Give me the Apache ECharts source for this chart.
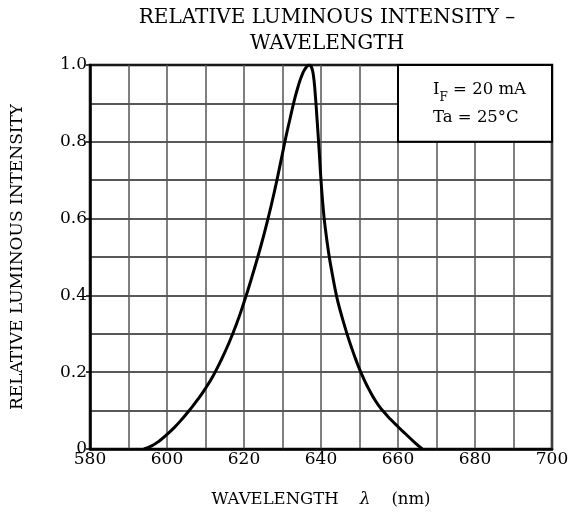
<!DOCTYPE html>
<html>
<head>
<meta charset="utf-8">
<script src="https://cdn.jsdelivr.net/npm/echarts@6/dist/echarts.min.js"></script>
<style>html,body{margin:0;padding:0;background:#fff}#c{width:577px;height:515px}</style>
</head>
<body>
<div id="c"></div>
<script>
const wavelength = [594, 596, 598, 600, 602, 604, 606, 608, 610, 612, 614, 616, 618, 620, 622, 624, 626, 628, 630, 631, 632, 633, 634, 635, 636, 637, 637.5, 638, 638.5, 639, 639.5, 640, 640.5, 641, 642, 643, 644, 645, 646, 647, 648, 649, 650, 651, 652, 653, 654, 655, 656, 658, 660, 662, 664, 666.3];
const intensity  = [0, 0.008, 0.021, 0.038, 0.057, 0.079, 0.103, 0.129, 0.158, 0.191, 0.23, 0.274, 0.324, 0.382, 0.446, 0.515, 0.59, 0.675, 0.77, 0.818, 0.862, 0.905, 0.942, 0.972, 0.992, 1.0, 0.995, 0.975, 0.925, 0.855, 0.78, 0.7, 0.635, 0.585, 0.51, 0.452, 0.4, 0.36, 0.325, 0.292, 0.262, 0.234, 0.208, 0.185, 0.164, 0.145, 0.128, 0.113, 0.1, 0.078, 0.058, 0.039, 0.02, 0];
const xTicks = [580, 600, 620, 640, 660, 680, 700];
const yTicks = [0, 0.2, 0.4, 0.6, 0.8, 1.0];
const conditionBox = [[660, 0.8], [700, 1.0]];
const titleText = 'RELATIVE LUMINOUS INTENSITY –\nWAVELENGTH';
const xName = 'WAVELENGTH    {l|λ}    (nm)';
const yName = 'RELATIVE LUMINOUS INTENSITY';

const FONT = 'DejaVu Serif';
const chart = echarts.init(document.getElementById('c'));
chart.setOption({
  backgroundColor: '#fff',
  animation: false,
  title: {
    text: titleText,
    left: 322, top: 0, textAlign: 'center',
    textStyle: { fontFamily: FONT, fontSize: 20, fontWeight: 'normal', color: '#000', lineHeight: 26 }
  },
  grid: { left: 90, right: 25, top: 65, bottom: 66, show: true, borderColor: '#000', borderWidth: 2.5 },
  xAxis: {
    type: 'value', min: xTicks[0], max: xTicks[xTicks.length - 1], interval: 20,
    name: xName, nameLocation: 'middle', nameGap: 42,
    nameTextStyle: { fontFamily: FONT, fontSize: 16.5, color: '#000', rich: { l: { fontFamily: FONT, fontStyle: 'italic', fontSize: 17, color: '#000' } } },
    axisLine: { lineStyle: { color: '#000', width: 2.5 } },
    axisTick: { show: false },
    axisLabel: { fontFamily: FONT, fontSize: 17, color: '#000', margin: 2 },
    splitLine: { lineStyle: { color: '#555', width: 1.5 } },
    minorTick: { show: false, splitNumber: 2 },
    minorSplitLine: { show: true, lineStyle: { color: '#555', width: 1.5 } }
  },
  yAxis: {
    type: 'value', min: yTicks[0], max: yTicks[yTicks.length - 1], interval: 0.2,
    name: yName, nameLocation: 'middle', nameGap: 64, nameRotate: 90,
    nameTextStyle: { fontFamily: FONT, fontSize: 17, color: '#000' },
    axisLine: { lineStyle: { color: '#000', width: 2.5 } },
    axisTick: { show: true, length: 4, lineStyle: { color: '#000', width: 1.5 } },
    axisLabel: { fontFamily: FONT, fontSize: 17, color: '#000', margin: 3,
      formatter: v => v === 0 ? '0' : v.toFixed(1) },
    splitLine: { lineStyle: { color: '#222', width: 1.5 } },
    minorTick: { show: false, splitNumber: 2 },
    minorSplitLine: { show: true, lineStyle: { color: '#222', width: 1.5 } }
  },
  series: [{
    type: 'line',
    data: wavelength.map((w, i) => [w, intensity[i]]),
    showSymbol: false,
    smooth: 0.5,
    smoothConstraint: false,
    lineStyle: { color: '#000', width: 3 },
    markArea: {
      silent: true,
      itemStyle: { color: '#fff', borderColor: '#000', borderWidth: 2 },
      label: {
        show: true, position: 'insideLeft', distance: 36,
        formatter: '{n|I}{s|F}{n| = 20 mA}\n{n|Ta = 25°C}',
        rich: {
          n: { fontFamily: FONT, fontSize: 16.5, color: '#000', lineHeight: 28, verticalAlign: 'middle', align: 'left' },
          s: { fontFamily: FONT, fontSize: 12, color: '#000', lineHeight: 28, verticalAlign: 'bottom', align: 'left' }
        }
      },
      data: [[{ coord: conditionBox[0] }, { coord: conditionBox[1] }]]
    }
  }]
});
</script>
</body>
</html>
